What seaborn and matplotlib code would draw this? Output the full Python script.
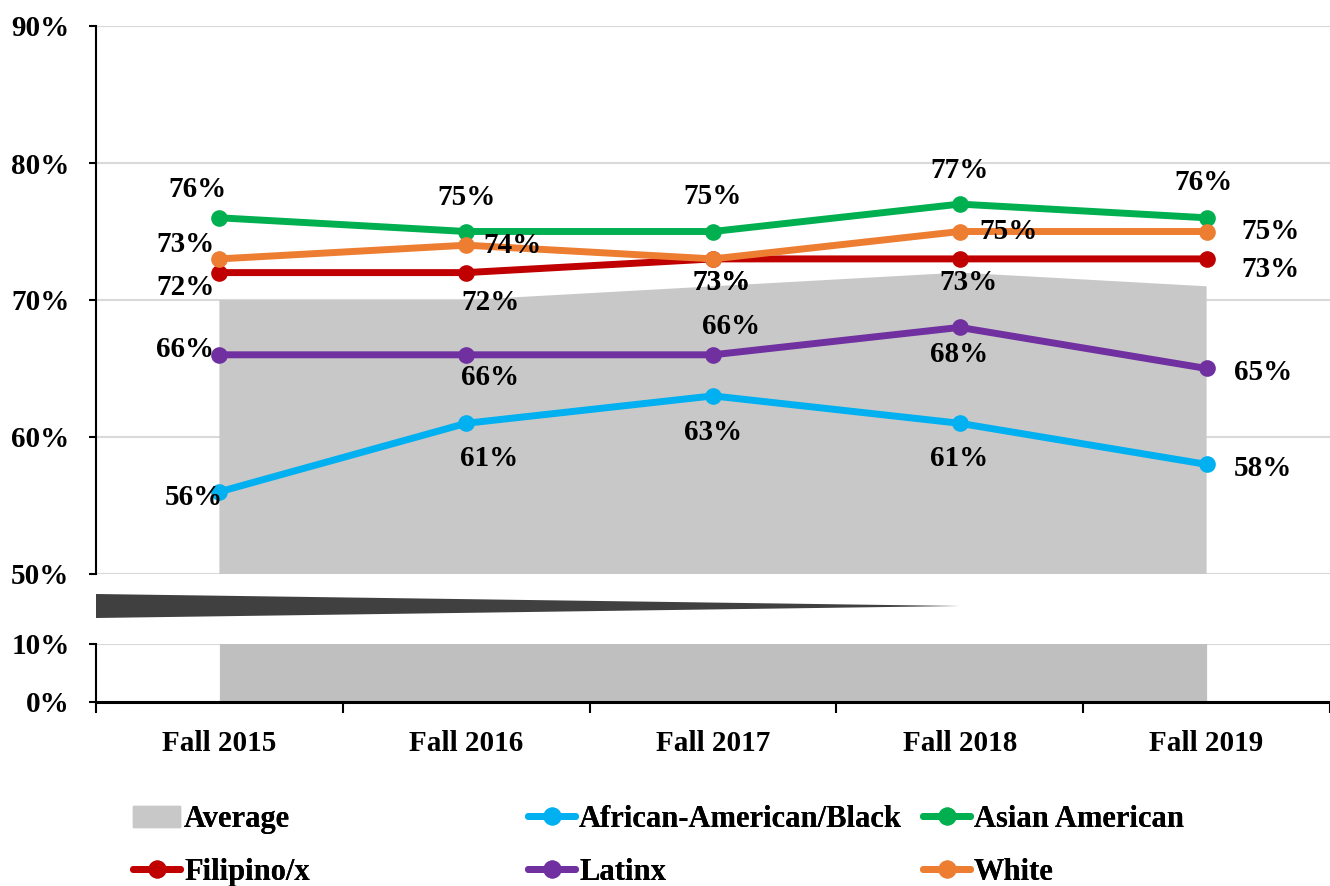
"""Fall-to-fall rates by ethnicity, broken y axis (50-90% on top, 0-10% below)."""

import matplotlib
matplotlib.use("Agg")
import matplotlib.pyplot as plt
import numpy as np
import pandas as pd
import seaborn as sns
from matplotlib.lines import Line2D
from matplotlib.patches import Patch, Polygon

terms = ["Fall 2015", "Fall 2016", "Fall 2017", "Fall 2018", "Fall 2019"]
average = [70, 70, 71, 72, 71]
black = [56, 61, 63, 61, 58]
asian = [76, 75, 75, 77, 76]
filipino = [72, 72, 73, 73, 73]
latinx = [66, 66, 66, 68, 65]
white = [73, 74, 73, 75, 75]

groups = ["African-American/Black", "Asian American", "Filipino/x", "Latinx", "White"]
series = [black, asian, filipino, latinx, white]
colors = {
    "African-American/Black": "#00B0F0",
    "Asian American": "#00B050",
    "Filipino/x": "#C00000",
    "Latinx": "#7030A0",
    "White": "#ED7D31",
}
AVG_TOP = "#C8C8C8"
AVG_BOT = "#BFBFBF"

# label offsets in pixels (dx right, dy down) from each point
offsets = {
    "African-American/Black": [(-26, 6), (23, 35), (0, 37), (-1, 35), (56, 4)],
    "Asian American": [(-22, -28), (0, -34), (0, -35), (0, -34), (-3, -35)],
    "Filipino/x": [(-34, 15), (24, 30), (8, 24), (9, 24), (64, 11)],
    "Latinx": [(-34, -5), (24, 23), (18, -28), (-1, 27), (57, 4)],
    "White": [(-34, -14), (46, 0), (8, 24), (49, 0), (64, 0)],
}

df = pd.DataFrame(
    [(i, g, v) for g, vals in zip(groups, series) for i, v in enumerate(vals)],
    columns=["pos", "group", "value"],
)

sns.set_style("white")
plt.rcParams["font.family"] = ["Liberation Serif", "DejaVu Serif"]
plt.rcParams["font.weight"] = "bold"
for key in ("text.color", "axes.labelcolor", "xtick.color", "ytick.color"):
    plt.rcParams[key] = "black"

fig = plt.figure(figsize=(13.3, 8.86), dpi=100)
W, H = 1330, 886
ax_top = fig.add_axes([96 / W, 1 - 574 / H, 1 - 96 / W, (574 - 26) / H])
ax_bot = fig.add_axes([96 / W, 1 - 702 / H, 1 - 96 / W, (702 - 644) / H])

x = np.arange(len(terms))
for ax, col in ((ax_top, AVG_TOP), (ax_bot, AVG_BOT)):
    ax.fill_between(x, average, color=col, lw=0, zorder=1)
    ax.set_xlim(-0.5, len(terms) - 0.5)
    ax.set_axisbelow(True)
    ax.grid(axis="y", color="#D9D9D9", lw=1.5)
    ax.grid(axis="x", visible=False)
    for s in ("top", "right"):
        ax.spines[s].set_visible(False)
    ax.spines["left"].set_color("black")
    ax.spines["left"].set_linewidth(1.5)
    ax.tick_params(axis="y", direction="out", length=5, width=1.5,
                   color="black", labelcolor="black", pad=14, labelsize=21,
                   left=True)

sns.lineplot(data=df, x="pos", y="value", hue="group", hue_order=groups,
             palette=colors, marker="o", markersize=12, markeredgewidth=0,
             linewidth=5, legend=False, ax=ax_top, zorder=3)
ax_top.set_xlabel("")
ax_top.set_ylabel("")

ax_top.set_ylim(50, 90)
ax_top.set_yticks([50, 60, 70, 80, 90])
ax_top.set_yticklabels([f"{t}%" for t in [50, 60, 70, 80, 90]])
ax_top.spines["bottom"].set_visible(False)
ax_top.set_xticks([])

ax_bot.set_ylim(0, 10)
ax_bot.set_yticks([0, 10])
ax_bot.set_yticklabels(["0%", "10%"])
ax_bot.spines["bottom"].set_color("black")
ax_bot.spines["bottom"].set_linewidth(2.2)
ax_bot.set_xticks(np.arange(len(terms) + 1) - 0.5)
ax_bot.set_xticklabels([])
ax_bot.set_xticks(x, minor=True)
ax_bot.set_xticklabels(terms, minor=True, fontsize=21, fontweight="bold",
                       color="black")
ax_bot.tick_params(axis="x", which="major", direction="out", length=8,
                   width=1.5, color="black", bottom=True)
ax_bot.tick_params(axis="x", which="minor", length=0, pad=20)

for g, vals in zip(groups, series):
    for i, v in enumerate(vals):
        dx, dy = offsets[g][i]
        ax_top.annotate(f"{v}%", (i, v), xytext=(dx * 0.72, -dy * 0.72),
                        textcoords="offset points", ha="center", va="center",
                        fontsize=21, fontweight="bold", color="black",
                        zorder=5, annotation_clip=False)

# axis break wedge
wedge = Polygon([(96 / W, 1 - 594 / H), (96 / W, 1 - 618 / H),
                 (960 / W, 1 - 606 / H)], closed=True,
                transform=fig.transFigure, color="#404040", lw=0)
fig.add_artist(wedge)

# legend: three columns laid out like the original
handle_kw = dict(marker="o", markersize=13, markeredgewidth=0, linewidth=5)
cols = [
    [(Patch(color=AVG_TOP), "Average"),
     (Line2D([], [], color=colors["Filipino/x"], **handle_kw), "Filipino/x")],
    [(Line2D([], [], color=colors["African-American/Black"], **handle_kw),
      "African-American/Black"),
     (Line2D([], [], color=colors["Latinx"], **handle_kw), "Latinx")],
    [(Line2D([], [], color=colors["Asian American"], **handle_kw), "Asian American"),
     (Line2D([], [], color=colors["White"], **handle_kw), "White")],
]
for xpos, col in zip([133, 528, 923], cols):
    leg = fig.legend([h for h, _ in col], [l for _, l in col],
                     loc="upper left", bbox_to_anchor=(xpos / W, 1 - 805 / H),
                     frameon=False, fontsize=22, handlelength=1.55,
                     handletextpad=0.12, labelspacing=0.78, borderpad=0,
                     borderaxespad=0, labelcolor="black")
    fig.add_artist(leg)

fig.savefig("out.png", dpi=100)
